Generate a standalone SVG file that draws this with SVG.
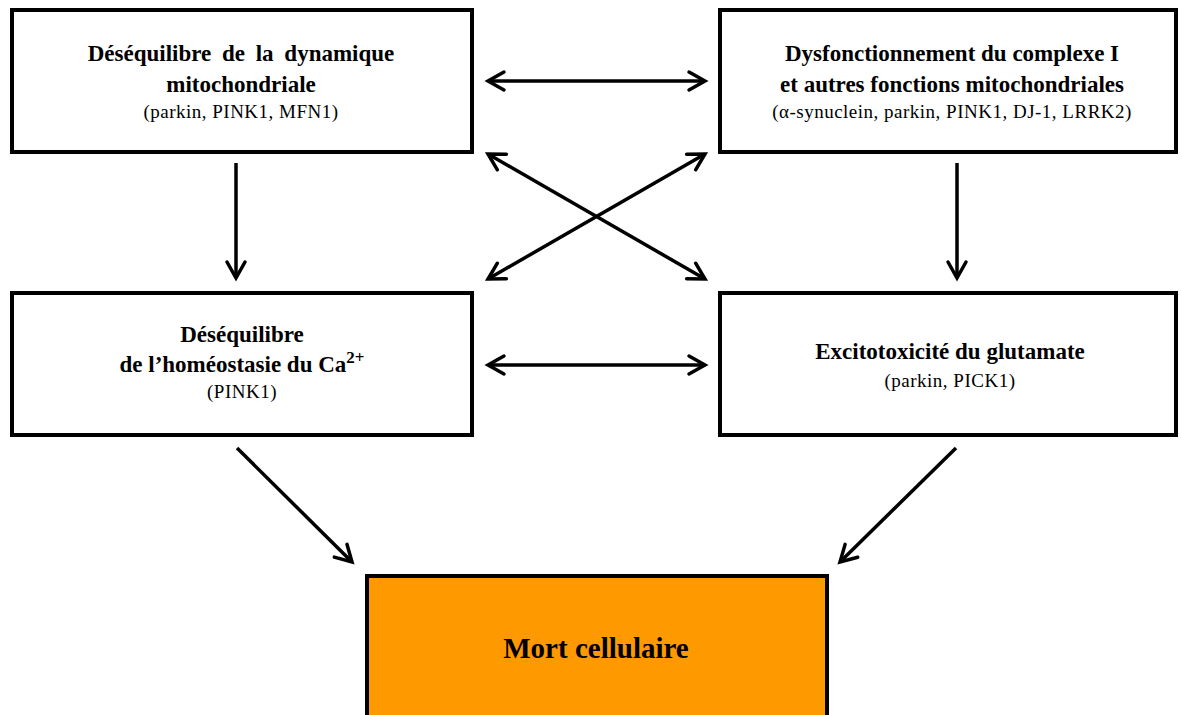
<svg xmlns="http://www.w3.org/2000/svg" width="1182" height="715" viewBox="0 0 1182 715">
<style>
.box{fill:#fff;stroke:#000;stroke-width:4}
.orange{fill:#FF9900;stroke:#000;stroke-width:4}
.b{font-family:"Liberation Serif","Times New Roman",serif;font-weight:bold;font-size:23px;text-anchor:middle;fill:#000}
.r{font-family:"Liberation Serif","Times New Roman",serif;font-size:19px;text-anchor:middle;fill:#000;letter-spacing:0.5px}
.big{font-family:"Liberation Serif","Times New Roman",serif;font-weight:bold;font-size:29px;text-anchor:middle;fill:#000}
.c{stroke:#000;stroke-width:3.5;fill:none}
</style>
<defs>
<marker id="ah" markerUnits="userSpaceOnUse" viewBox="-20 -15 30 30" markerWidth="30" markerHeight="30" refX="0" refY="0" orient="auto-start-reverse">
<path d="M-16,-9 L0,0 L-16,9" fill="none" stroke="#000" stroke-width="3.5" stroke-linecap="round" stroke-linejoin="miter"/>
</marker>
</defs>
<g id="connectors">
<line class="c" x1="488" y1="81" x2="705" y2="81" marker-start="url(#ah)" marker-end="url(#ah)"/>
<line class="c" x1="488" y1="154" x2="705" y2="279" marker-start="url(#ah)" marker-end="url(#ah)"/>
<line class="c" x1="705" y1="154" x2="488" y2="279" marker-start="url(#ah)" marker-end="url(#ah)"/>
<line class="c" x1="488" y1="365" x2="705" y2="365" marker-start="url(#ah)" marker-end="url(#ah)"/>
<line class="c" x1="236" y1="163" x2="236" y2="278" marker-end="url(#ah)"/>
<line class="c" x1="957" y1="163" x2="957" y2="278" marker-end="url(#ah)"/>
<line class="c" x1="237" y1="448" x2="352" y2="562" marker-end="url(#ah)"/>
<line class="c" x1="956" y1="448" x2="840" y2="562" marker-end="url(#ah)"/>
</g>
<g id="node-dynamique">
<rect class="box" x="12" y="10" width="460" height="142"/>
<text class="b" x="241" y="61" word-spacing="5">Déséquilibre de la dynamique</text>
<text class="b" x="241" y="92">mitochondriale</text>
<text class="r" x="241" y="118">(parkin, PINK1, MFN1)</text>
</g>
<g id="node-complexe">
<rect class="box" x="720" y="10" width="456" height="142"/>
<text class="b" x="952" y="61">Dysfonctionnement du complexe I</text>
<text class="b" x="952" y="92">et autres fonctions mitochondriales</text>
<text class="r" x="952" y="118" letter-spacing="0.2">(α-synuclein, parkin, PINK1, DJ-1, LRRK2)</text>
</g>
<g id="node-calcium">
<rect class="box" x="12" y="293" width="460" height="142"/>
<text class="b" x="242" y="342">Déséquilibre</text>
<text class="b" x="242" y="372">de l’homéostasie du Ca<tspan font-size="17" dy="-9">2+</tspan></text>
<text class="r" x="242" y="398">(PINK1)</text>
</g>
<g id="node-glutamate">
<rect class="box" x="720" y="293" width="456" height="142"/>
<text class="b" x="950" y="359">Excitotoxicité du glutamate</text>
<text class="r" x="950" y="387">(parkin, PICK1)</text>
</g>
<g id="node-mort">
<rect class="orange" x="367" y="576" width="460" height="150"/>
<text class="big" x="596" y="658">Mort cellulaire</text>
</g>
</svg>
